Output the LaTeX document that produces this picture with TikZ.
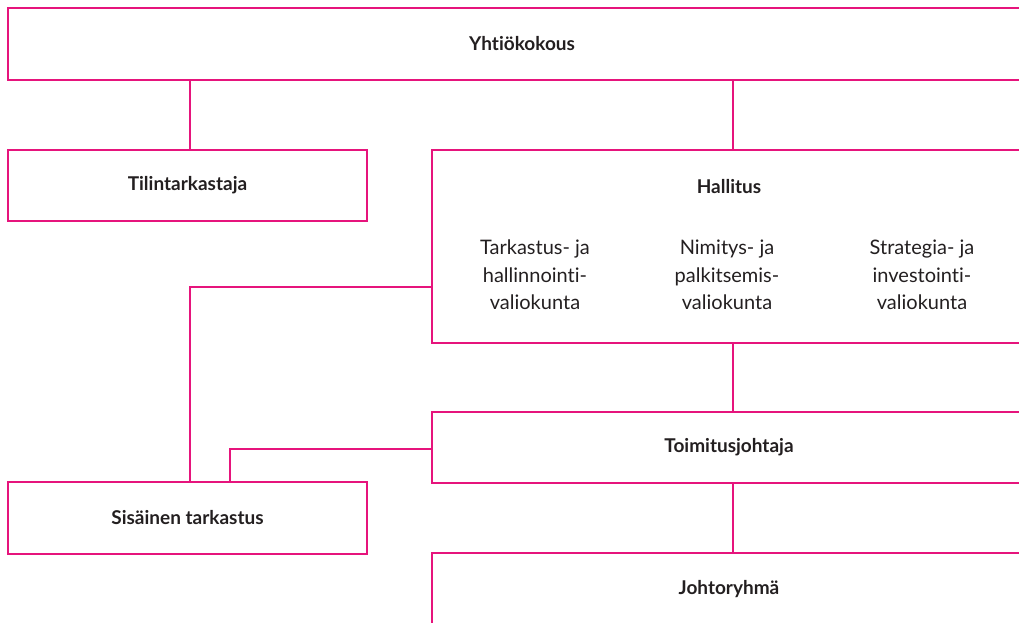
\documentclass[tikz,border=0pt]{standalone}
\usepackage{fontspec}
\setmainfont{Lato}[Ligatures={NoCommon}]
\usetikzlibrary{positioning}
\definecolor{viiva}{HTML}{E6147C}
\definecolor{teksti}{HTML}{231F20}
\tikzset{
	laatikko/.style={draw=viiva, line width=1.1pt, rectangle, inner sep=0pt, text=teksti, font=\bfseries\fontsize{19}{22}\selectfont},
	otsikko/.style={inner sep=0pt, text=teksti, font=\bfseries\fontsize{19}{22}\selectfont},
	valiokunta/.style={inner sep=0pt, align=center, text=teksti, font=\fontsize{20}{27.5}\selectfont},
	yhteys/.style={draw=viiva, line width=1.1pt},
}
\begin{document}
\begin{tikzpicture}[x=1pt, y=-1pt]
			\clip (0,0) rectangle (1019,623);
			% laatikot
			\node[laatikko, minimum width=1028, minimum height=72] (yhtio) at (522,44) {Yhtiökokous};
			\node[laatikko, minimum width=359, minimum height=71] (tilin) at (187.5,185.5) {Tilintarkastaja};
			\node[laatikko, minimum width=594, minimum height=193] (hallitus) at (729,246.5) {};
			\node[laatikko, minimum width=594, minimum height=71] (toim) at (729,447.5) {Toimitusjohtaja};
			\node[laatikko, minimum width=359, minimum height=72] (sis) at (187.5,518) {Sisäinen tarkastus};
			\node[laatikko, minimum width=594, minimum height=72] (johto) at (729,589) {Johtoryhmä};
			% hallituksen tekstit
			\node[otsikko] (hallotsikko) at (729,187) {Hallitus};
			\node[valiokunta] (tark) at (535,275) {Tarkastus- ja\\hallinnointi-\\valiokunta};
			\node[valiokunta] (nimi) at (727,275) {Nimitys- ja\\palkitsemis-\\valiokunta};
			\node[valiokunta] (strat) at (922,275) {Strategia- ja\\investointi-\\valiokunta};
			% yhteydet
			\coordinate (vasen) at (190,0);
			\coordinate (keski) at (733,0);
			\coordinate (sisviiva) at (230,0);
			\draw[yhteys] (vasen |- yhtio.south) -- (vasen |- tilin.north);
			\draw[yhteys] (keski |- yhtio.south) -- (keski |- hallitus.north);
			\draw[yhteys] (keski |- hallitus.south) -- (keski |- toim.north);
			\draw[yhteys] (keski |- toim.south) -- (keski |- johto.north);
			\draw[yhteys] (hallitus.west |- 0,287) -| (vasen |- sis.north);
			\draw[yhteys] (toim.west |- 0,449) -| (sisviiva |- sis.north);
		\end{tikzpicture}
\end{document}
